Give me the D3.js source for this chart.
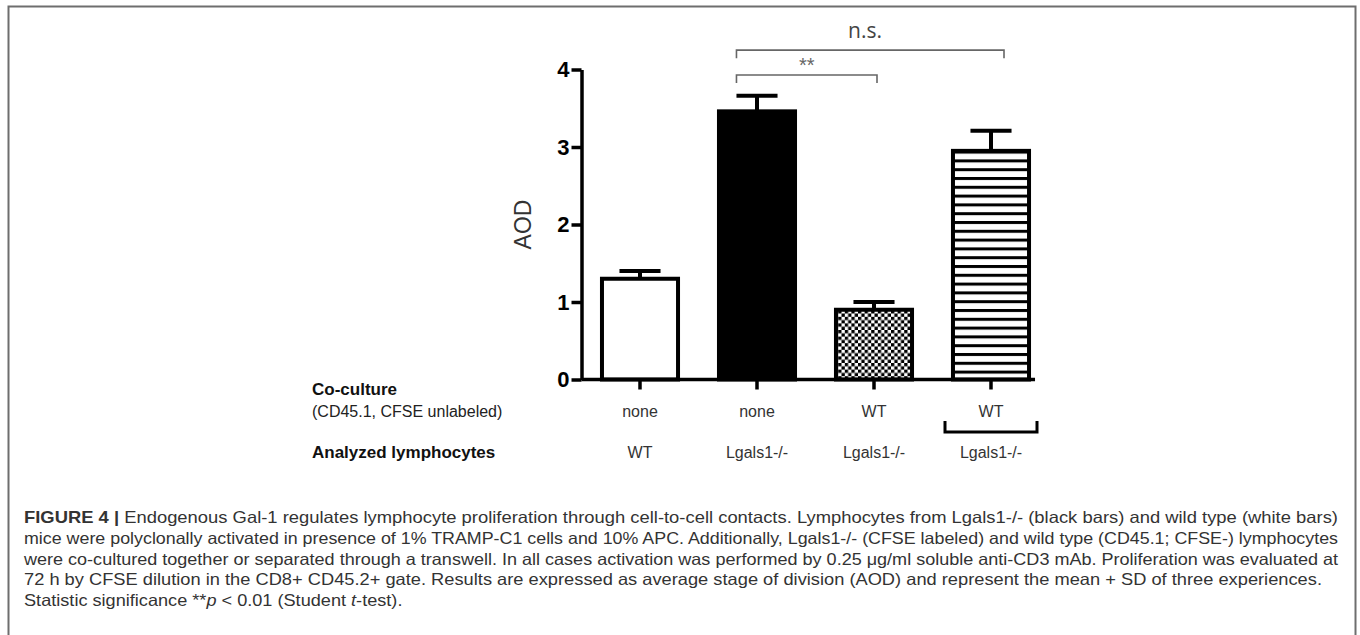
<!DOCTYPE html>
<html><head><meta charset="utf-8">
<script src="https://cdn.jsdelivr.net/npm/d3@7"></script>
<style>body{margin:0;background:#fff}svg{display:block}</style>
</head><body>
<svg id="c" width="1360" height="635"></svg>
<script>
// ---------- data ----------
const categories = ["WT / none", "Lgals1-/- / none", "Lgals1-/- / WT", "Lgals1-/- / WT transwell"];
const coCulture  = ["none", "none", "WT", "WT"];
const analyzed   = ["WT", "Lgals1-/-", "Lgals1-/-", "Lgals1-/-"];
const meanAOD    = [1.30, 3.46, 0.90, 2.95];
const sdAOD      = [0.10, 0.20, 0.10, 0.26];
const yTicks     = [0, 1, 2, 3, 4];
const yTitle     = "AOD";
const rowTitles  = ["Co-culture", "(CD45.1, CFSE unlabeled)", "Analyzed lymphocytes"];
const sigFrom    = [1, 1];
const sigTo      = [2, 3];
const sigLabel   = ["**", "n.s."];
const sigLevel   = [3.93, 4.25];
const captionLines = [
  [["b","FIGURE 4 | "],["n","Endogenous Gal-1 regulates lymphocyte proliferation through cell-to-cell contacts. Lymphocytes from Lgals1-/- (black bars) and wild type (white bars)"]],
  [["n","mice were polyclonally activated in presence of 1% TRAMP-C1 cells and 10% APC. Additionally, Lgals1-/- (CFSE labeled) and wild type (CD45.1; CFSE-) lymphocytes"]],
  [["n","were co-cultured together or separated through a transwell. In all cases activation was performed by 0.25 \u03BCg/ml soluble anti-CD3 mAb. Proliferation was evaluated at"]],
  [["n","72 h by CFSE dilution in the CD8+ CD45.2+ gate. Results are expressed as average stage of division (AOD) and represent the mean + SD of three experiences."]],
  [["n","Statistic significance **"],["i","p"],["n"," < 0.01 (Student "],["i","t"],["n","-test)."]]
];

// ---------- drawing ----------
const svg = d3.select("#c");
const font = "'Liberation Sans', Arial, sans-serif";

// frame
svg.append("rect").attr("x", 8.5).attr("y", 6.5).attr("width", 1347).attr("height", 660)
  .attr("fill", "none").attr("stroke", "#6e6e6e").attr("stroke-width", 2);

const defs = svg.append("defs");
const chk = defs.append("pattern").attr("id", "checker").attr("patternUnits", "userSpaceOnUse")
  .attr("width", 6.6).attr("height", 6.6);
chk.append("rect").attr("width", 6.6).attr("height", 6.6).attr("fill", "#fff");
chk.append("rect").attr("width", 3.3).attr("height", 3.3).attr("fill", "#000");
chk.append("rect").attr("x", 3.3).attr("y", 3.3).attr("width", 3.3).attr("height", 3.3).attr("fill", "#000");
const hl = defs.append("pattern").attr("id", "hlines").attr("patternUnits", "userSpaceOnUse")
  .attr("width", 10).attr("height", 8.8).attr("y", 1);
hl.append("rect").attr("width", 10).attr("height", 8.8).attr("fill", "#fff");
hl.append("rect").attr("width", 10).attr("height", 3).attr("fill", "#000");
const barFill = ["#fff", "#000", "url(#checker)", "url(#hlines)"];

const y = d3.scaleLinear().domain([0, 4]).range([379.5, 69.5]);
const x = d3.scaleBand().domain(categories).range([581.5, 1049.5])
  .paddingInner(0.35).paddingOuter(0.175);
const bw = x.bandwidth();
const cx = d => x(d) + bw / 2;

// bars
const data = categories.map((c, i) => ({c, m: meanAOD[i], sd: sdAOD[i], i}));
svg.append("g").selectAll("rect").data(data).join("rect")
  .attr("x", d => x(d.c)).attr("y", d => y(d.m))
  .attr("width", bw).attr("height", d => y(0) - y(d.m))
  .attr("fill", d => barFill[d.i]).attr("stroke", "#000").attr("stroke-width", 4);

// error bars
const eg = svg.append("g").attr("stroke", "#000").attr("stroke-width", 4);
eg.selectAll("line.v").data(data).join("line").attr("class", "v")
  .attr("x1", d => cx(d.c)).attr("x2", d => cx(d.c))
  .attr("y1", d => y(d.m)).attr("y2", d => y(d.m + d.sd));
eg.selectAll("line.h").data(data).join("line").attr("class", "h")
  .attr("x1", d => cx(d.c) - bw * 0.27).attr("x2", d => cx(d.c) + bw * 0.27)
  .attr("y1", d => y(d.m + d.sd)).attr("y2", d => y(d.m + d.sd));

// axes
const ya = svg.append("g").attr("transform", "translate(581.5,0)")
  .call(d3.axisLeft(y).tickValues(yTicks).tickFormat(d3.format("d")).tickSize(10).tickSizeOuter(0).tickPadding(2));
ya.select(".domain").attr("stroke", "#000").attr("stroke-width", 3.5);
ya.selectAll(".tick line").attr("stroke", "#000").attr("stroke-width", 3.5);
ya.selectAll(".tick text").attr("font-family", font).attr("font-size", 22).attr("font-weight", "bold").attr("fill", "#000");

const xa = svg.append("g").attr("transform", `translate(0,${y(0)})`)
  .call(d3.axisBottom(x).tickSize(10).tickSizeOuter(0).tickFormat(""));
const axisEnd = x(categories[3]) + bw + 6;
xa.select(".domain").attr("d", `M581.5,0H${axisEnd}`).attr("stroke", "#000").attr("stroke-width", 3.5);
xa.selectAll(".tick line").attr("stroke", "#000").attr("stroke-width", 3.5);

svg.append("text").attr("transform", `translate(523,${y(2)}) rotate(-90)`)
  .attr("text-anchor", "middle").attr("dominant-baseline", "central")
  .attr("font-family", font).attr("font-size", 23).attr("fill", "#333").text(yTitle);

// significance brackets
const rightOff = [3, 13];
sigLabel.forEach((lab, k) => {
  const x1 = cx(categories[sigFrom[k]]) - bw * 0.27;
  const x2 = cx(categories[sigTo[k]]) + rightOff[k];
  const yy = y(sigLevel[k]);
  svg.append("path").attr("d", `M${x1},${yy + 8}V${yy}H${x2}V${yy + 8}`)
    .attr("fill", "none").attr("stroke", "#666").attr("stroke-width", 1.6);
  svg.append("text").attr("x", k === 0 ? (x1 + x2) / 2 : (cx(categories[sigFrom[k]]) + cx(categories[sigTo[k]])) / 2 - 9)
    .attr("y", k === 0 ? yy - 3 : yy - 12)
    .attr("text-anchor", "middle").attr("font-family", k === 0 ? font : "'Open Sans', sans-serif")
    .attr("font-size", k === 0 ? 20 : 21).attr("fill", k === 0 ? "#666" : "#444").text(lab);
});

// table rows under the axis
const rowX = 312;
svg.append("text").attr("x", rowX).attr("y", 395).attr("font-family", font).attr("font-size", 17)
  .attr("font-weight", "bold").attr("fill", "#111").text(rowTitles[0]);
svg.append("text").attr("x", rowX).attr("y", 417).attr("font-family", font).attr("font-size", 16)
  .attr("fill", "#222").text(rowTitles[1]);
svg.append("text").attr("x", rowX).attr("y", 458).attr("font-family", font).attr("font-size", 17)
  .attr("font-weight", "bold").attr("fill", "#111").text(rowTitles[2]);
svg.append("g").selectAll("text").data(coCulture).join("text")
  .attr("x", (d, i) => cx(categories[i])).attr("y", 417).attr("text-anchor", "middle")
  .attr("font-family", font).attr("font-size", 16).attr("fill", "#333").text(d => d);
svg.append("g").selectAll("text").data(analyzed).join("text")
  .attr("x", (d, i) => cx(categories[i])).attr("y", 458).attr("text-anchor", "middle")
  .attr("font-family", font).attr("font-size", 16).attr("fill", "#333").text(d => d);
// transwell bracket under last column
const lc = cx(categories[3]);
svg.append("path").attr("d", `M${lc - 46},421V432H${lc + 46}V421`)
  .attr("fill", "none").attr("stroke", "#000").attr("stroke-width", 3);

// caption
const capX = 24, capRight = 1338, capY0 = 523, capDy = 20.8;
const factors = [];
const capNodes = captionLines.map((parts, li) => {
  const t = svg.append("text").attr("x", capX).attr("y", capY0 + li * capDy)
    .attr("font-family", font).attr("font-size", 16.5).attr("fill", "#333");
  parts.forEach(([s, txt]) => {
    const ts = t.append("tspan").text(txt);
    if (s === "b") ts.attr("font-weight", "bold");
    if (s === "i") ts.attr("font-style", "italic");
  });
  return t;
});
capNodes.forEach((t, li) => {
  const w = t.node().getComputedTextLength();
  if (li < 4) {
    const target = (li === 3 ? 1322 : capRight) - capX;
    factors.push(target / w);
    t.attr("textLength", target).attr("lengthAdjust", "spacingAndGlyphs");
  } else {
    const f = d3.mean(factors);
    t.attr("textLength", w * f).attr("lengthAdjust", "spacingAndGlyphs");
  }
});
</script>
</body></html>
